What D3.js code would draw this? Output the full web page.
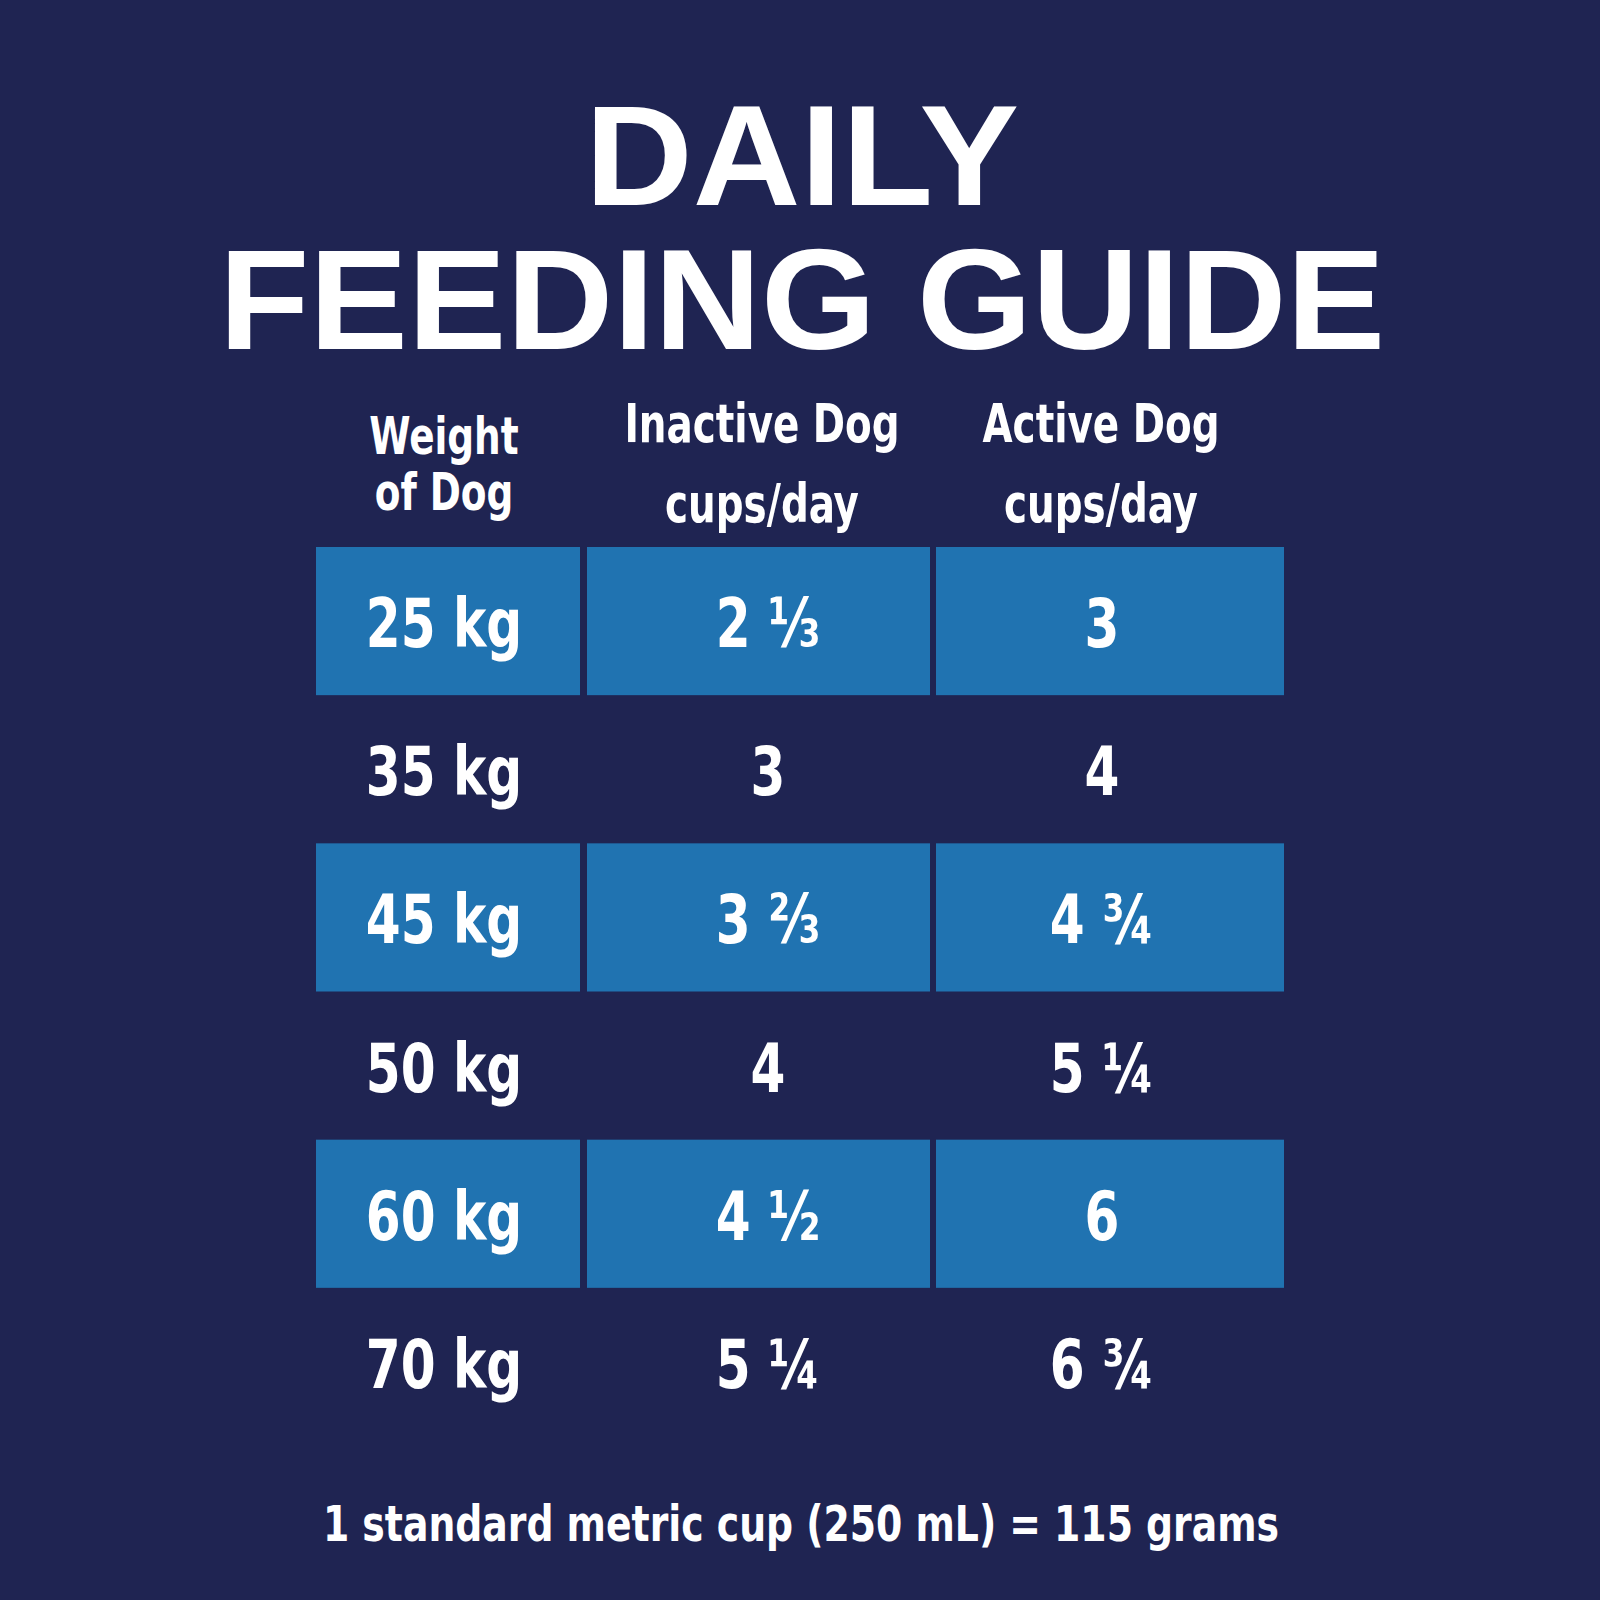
<!DOCTYPE html>
<html><head><meta charset="utf-8">
<script src="https://cdn.jsdelivr.net/npm/d3@7"></script>
<style>body{margin:0;background:#1f2452}</style></head>
<body><svg id="c" width="1600" height="1600"></svg>
<script>
const weights = ["25 kg","35 kg","45 kg","50 kg","60 kg","70 kg"];
const inactive = ["2 ⅓","3","3 ⅔","4","4 ½","5 ¼"];
const active = ["3","4","4 ¾","5 ¼","6","6 ¾"];
const headers = [["Weight","of Dog"],["Inactive Dog","cups/day"],["Active Dog","cups/day"]];

const svg = d3.select("#c");
svg.append("rect").attr("width",1600).attr("height",1600).attr("fill","#1f2452");
const F = "'DejaVu Sans Condensed','Liberation Sans Narrow','Roboto',sans-serif";
const TF = "'Liberation Sans',Arial,sans-serif";

function ctext(x,y,t,size,sx,font){
  svg.append("text").attr("transform",`translate(${x},${y}) scale(${sx},1)`)
    .attr("text-anchor","middle").attr("font-family",font||F).attr("font-weight","bold")
    .attr("font-size",size).attr("fill","#fff").text(t);
}

svg.append("text").attr("x",802).attr("y",205).attr("text-anchor","middle")
  .attr("font-family",TF).attr("font-weight",900).attr("font-size",142).attr("fill","#fff")
  .attr("textLength",434).attr("lengthAdjust","spacingAndGlyphs").text("DAILY");
svg.append("text").attr("x",802).attr("y",349).attr("text-anchor","middle")
  .attr("font-family",TF).attr("font-weight",900).attr("font-size",142).attr("fill","#fff")
  .attr("textLength",1166).attr("lengthAdjust","spacingAndGlyphs").text("FEEDING GUIDE");

const colEdges = [[316,580],[587,930],[936,1284]];
const y = d3.scaleBand().domain(d3.range(weights.length)).range([547,1436]);
const rows = weights.map((w,i)=>[w,inactive[i],active[i]]);
const cx = [444,768,1102];

rows.forEach((r,i)=>{
  r.forEach((v,j)=>{
    const [x0,x1]=colEdges[j];
    if(i%2===0) svg.append("rect").attr("x",x0).attr("y",y(i)).attr("width",x1-x0).attr("height",y.bandwidth()).attr("fill","#2073b1");
    ctext(cx[j], y(i)+y.bandwidth()/2+26, v, 68, 0.82);
  });
});

const hx=[444,762,1101];
headers.forEach((h,j)=>{
  const ys = j===0?[454,510]:[442,522];
  h.forEach((t,k)=>ctext(hx[j],ys[k],t,j===0?52:54,0.8));
});

ctext(801,1541,"1 standard metric cup (250 mL) = 115 grams",50,0.84);
</script></body></html>
